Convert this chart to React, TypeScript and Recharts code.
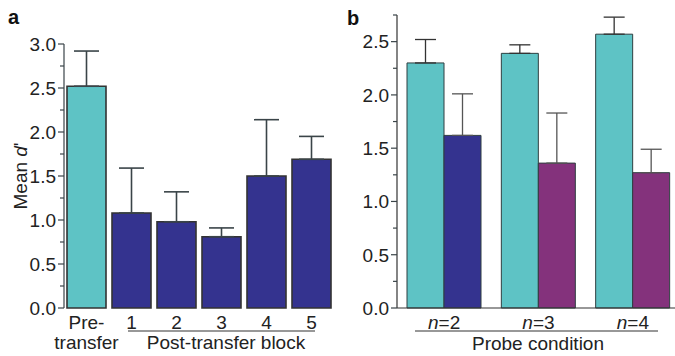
import { BarChart, Bar, XAxis, YAxis, ErrorBar, Cell } from "recharts";

const FONT = '"Liberation Sans", Arial, Helvetica, sans-serif';
const FS = 19;
const TEAL = "#5ec3c5";
const NAVY = "#34338f";
const PURPLE = "#84327c";
const INK = "#3a4448";

// panel a
const blockLabels = ["Pre-transfer", "1", "2", "3", "4", "5"];
const blockMeans = [2.52, 1.08, 0.98, 0.81, 1.5, 1.69];
const blockUpper = [2.92, 1.59, 1.32, 0.91, 2.14, 1.95];
const blockColors = [TEAL, NAVY, NAVY, NAVY, NAVY, NAVY];
const ticksA = [0, 0.25, 0.5, 0.75, 1, 1.25, 1.5, 1.75, 2, 2.25, 2.5, 2.75, 3];

// panel b
const probeLabels = ["2", "3", "4"];
const baselineMeans = [2.3, 2.39, 2.57];
const baselineUpper = [2.52, 2.47, 2.73];
const probeMeans = [1.62, 1.36, 1.27];
const probeUpper = [2.01, 1.83, 1.49];
const probeColors = [NAVY, PURPLE, PURPLE];
const ticksB = [0, 0.25, 0.5, 0.75, 1, 1.25, 1.5, 1.75, 2, 2.25, 2.5, 2.75];

const dataA = blockLabels.map((label, i) => ({
  label,
  mean: blockMeans[i],
  err: [0, +(blockUpper[i] - blockMeans[i]).toFixed(2)],
}));

const dataB = probeLabels.map((label, i) => ({
  label,
  base: baselineMeans[i],
  baseErr: [0, +(baselineUpper[i] - baselineMeans[i]).toFixed(2)],
  probe: probeMeans[i],
  probeErr: [0, +(probeUpper[i] - probeMeans[i]).toFixed(2)],
}));

function YTick(props: any) {
  const { x, y, payload } = props;
  const v = payload.value;
  const major = Math.abs(v * 2 - Math.round(v * 2)) < 1e-6;
  return (
    <g>
      <line x1={x - (major ? 6 : 4)} x2={x} y1={y} y2={y} stroke={INK} strokeWidth={1.2} />
      {major && (
        <text x={x - 8} y={y} dy="0.36em" textAnchor="end" fontSize={FS} fill="#222" fontFamily={FONT}>
          {v.toFixed(1)}
        </text>
      )}
    </g>
  );
}

function BlockTick(props: any) {
  const { x, y, payload } = props;
  if (payload.value === "Pre-transfer") {
    return (
      <g fontSize={FS} fill="#222" fontFamily={FONT}>
        <text x={x} y={y + 21} textAnchor="middle">Pre-</text>
        <text x={x} y={y + 41} textAnchor="middle">transfer</text>
      </g>
    );
  }
  return (
    <text x={x} y={y + 21} textAnchor="middle" fontSize={FS} fill="#222" fontFamily={FONT}>
      {payload.value}
    </text>
  );
}

function ProbeTick(props: any) {
  const { x, y, payload } = props;
  return (
    <text x={x} y={y + 21} textAnchor="middle" fontSize={FS} fill="#222" fontFamily={FONT}>
      <tspan fontStyle="italic">n</tspan>={payload.value}
    </text>
  );
}

export default function App() {
  return (
    <div
      style={{
        position: "absolute",
        left: 0,
        top: 0,
        width: 675,
        height: 356,
        overflow: "hidden",
        background: "#fff",
        fontFamily: FONT,
      }}
    >
      <div style={{ position: "absolute", left: 0, top: 0 }}>
        <BarChart
          width={340}
          height={356}
          data={dataA}
          margin={{ top: 44, right: 6, bottom: 0, left: 0 }}
        >
          <XAxis
            dataKey="label"
            height={48}
            axisLine={false}
            tickLine={false}
            tickSize={0}
            tickMargin={0}
            interval={0}
            tick={<BlockTick />}
          />
          <YAxis
            width={64}
            domain={[0, 3]}
            ticks={ticksA}
            interval={0}
            tickLine={false}
            tickSize={0}
            tickMargin={0}
            axisLine={{ stroke: INK, strokeWidth: 1.2 }}
            tick={<YTick />}
          />
          <Bar dataKey="mean" barSize={39} stroke="#333" strokeWidth={1.6} isAnimationActive={false}>
            {dataA.map((d, i) => (
              <Cell key={d.label} fill={blockColors[i]} />
            ))}
            <ErrorBar dataKey="err" width={12.5} stroke={INK} strokeWidth={1.6} isAnimationActive={false} />
          </Bar>
        </BarChart>
      </div>

      <div style={{ position: "absolute", left: 340, top: 0 }}>
        <BarChart
          width={340}
          height={356}
          data={dataB}
          margin={{ top: 15, right: 0, bottom: 0, left: 0 }}
          barGap={0}
        >
          <XAxis
            dataKey="label"
            height={48}
            axisLine={{ stroke: "#333", strokeWidth: 1.2 }}
            tickLine={false}
            tickSize={0}
            tickMargin={0}
            interval={0}
            tick={<ProbeTick />}
          />
          <YAxis
            width={57}
            domain={[0, 2.75]}
            ticks={ticksB}
            interval={0}
            tickLine={false}
            tickSize={0}
            tickMargin={0}
            axisLine={{ stroke: "#333", strokeWidth: 1.2 }}
            tick={<YTick />}
          />
          <Bar dataKey="base" barSize={37} fill={TEAL} stroke="#2f3f40" strokeWidth={1} isAnimationActive={false}>
            <ErrorBar dataKey="baseErr" width={10.5} stroke="#333" strokeWidth={1.3} isAnimationActive={false} />
          </Bar>
          <Bar dataKey="probe" barSize={37} stroke="#2f3f40" strokeWidth={1} isAnimationActive={false}>
            {dataB.map((d, i) => (
              <Cell key={d.label} fill={probeColors[i]} />
            ))}
            <ErrorBar dataKey="probeErr" width={10.5} stroke="#555" strokeWidth={1.3} isAnimationActive={false} />
          </Bar>
        </BarChart>
      </div>

      <svg
        width={675}
        height={356}
        style={{ position: "absolute", left: 0, top: 0, pointerEvents: "none" }}
        fontFamily={FONT}
      >
        <text x={8} y={24} fontSize={20} fontWeight="bold" fill="#111">a</text>
        <text x={347} y={25} fontSize={20} fontWeight="bold" fill="#111">b</text>
        <text
          transform="translate(27,176) rotate(-90)"
          textAnchor="middle"
          fontSize={FS}
          fill="#222"
        >
          Mean <tspan fontStyle="italic">d</tspan>'
        </text>
        <line x1={128} x2={315} y1={331} y2={331} stroke="#333" strokeWidth={1.2} />
        <text x={226} y={349} textAnchor="middle" fontSize={FS} fill="#222">
          Post-transfer block
        </text>
        <line x1={415} x2={658} y1={331} y2={331} stroke="#333" strokeWidth={1.2} />
        <text x={538} y={350} textAnchor="middle" fontSize={FS} fill="#222">
          Probe condition
        </text>
      </svg>
    </div>
  );
}
